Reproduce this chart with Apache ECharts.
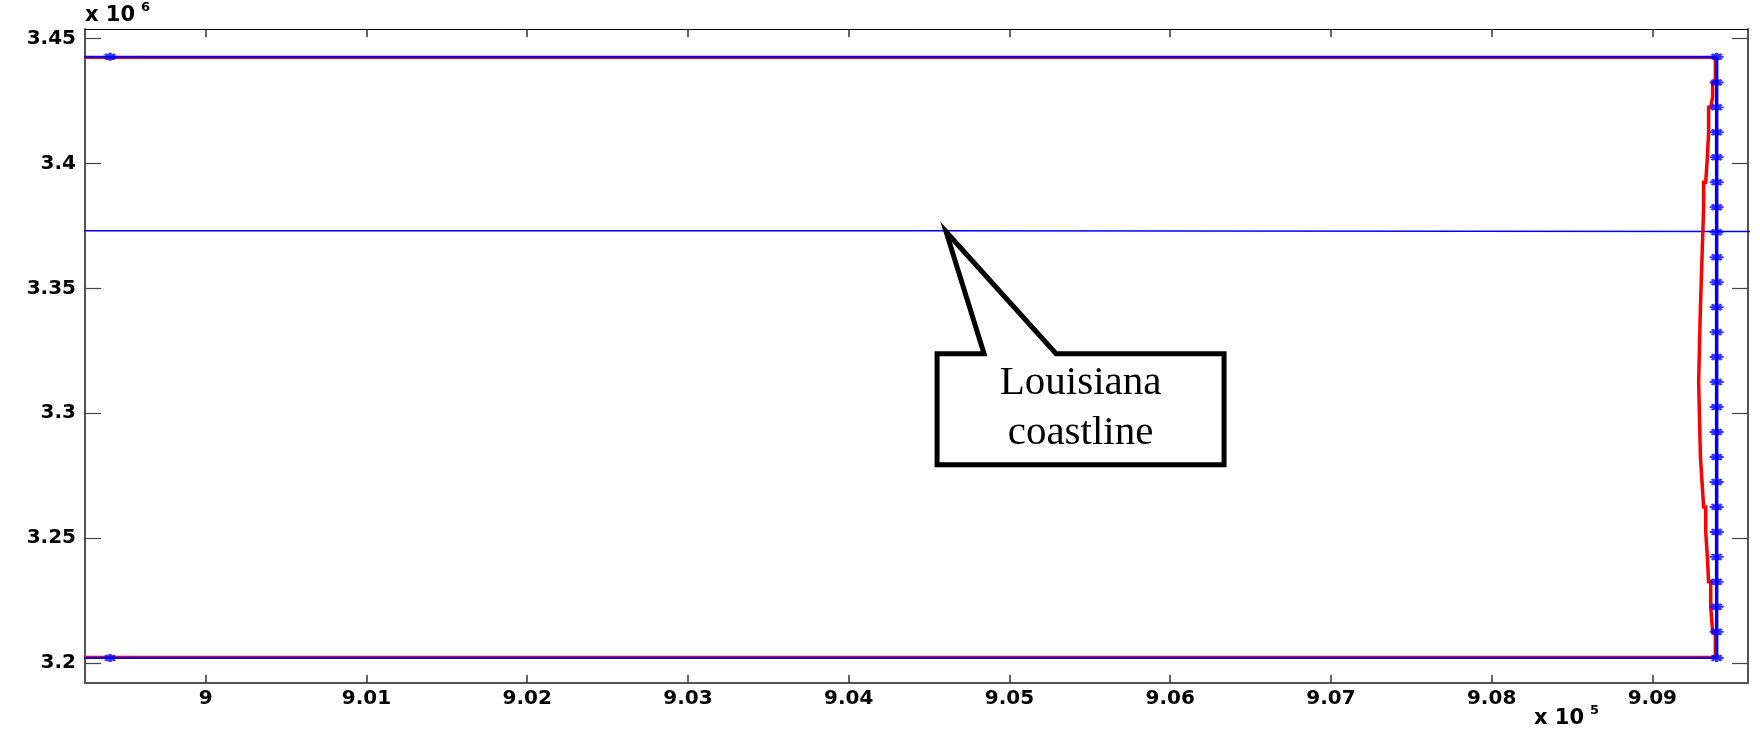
<!DOCTYPE html>
<html>
<head>
<meta charset="utf-8">
<script src="https://cdn.jsdelivr.net/npm/echarts@6/dist/echarts.min.js"></script>
<style>
html,body{margin:0;padding:0;background:#fff;}
#chart{width:1760px;height:734px;}
</style>
</head>
<body>
<div id="chart"></div>
<script>
// ---- Data (x in units of 1e5, y in units of 1e6) ----
const X_TICKS = [9, 9.01, 9.02, 9.03, 9.04, 9.05, 9.06, 9.07, 9.08, 9.09];
const Y_TICKS = [3.2, 3.25, 3.3, 3.35, 3.4, 3.45];
const X_RANGE = [8.99249, 9.09595];
const Y_RANGE = [3.1920, 3.45388];

// blue boundary (open rectangle running west off the plot)
const BLUE_WEST_END = 8.98;
const BLUE_EAST_X = 9.0940;
const BLUE_TOP_Y = 3.4428;
const BLUE_BOTTOM_Y = 3.2020;
const BLUE_WEST_MARKER_X = 8.99405;
const BLUE_EAST_MARKER_Y = [3.4428, 3.4325, 3.4225, 3.4125, 3.4025, 3.3925, 3.3825, 3.3725, 3.3625,
  3.3525, 3.3425, 3.3325, 3.3225, 3.3125, 3.3025, 3.2925, 3.2825, 3.2725, 3.2625, 3.2525, 3.2425,
  3.2325, 3.2225, 3.2125, 3.2020];

// red boundary (stepped eastern edge)
const RED_WEST_END = 8.98;
const RED_TOP_Y = 3.4423;
const RED_BOTTOM_Y = 3.2025;
const RED_STEP_X = [9.09392, 9.09375, 9.09363, 9.0935, 9.09342, 9.09332, 9.09319, 9.09309, 9.09299, 9.09288,
  9.09299, 9.09309, 9.09319, 9.09332, 9.09342, 9.0935, 9.09363, 9.09375, 9.09392];
const RED_STEP_Y = [3.4423, 3.4325, 3.4267, 3.4225, 3.4125, 3.4025, 3.3925, 3.3825, 3.3625, 3.3425,
  3.3125, 3.2825, 3.2725, 3.2625, 3.2525, 3.2425, 3.2325, 3.2225, 3.2125, 3.2025];

// coastline
const COAST_X = [8.98, 9.04423, 9.04423, 9.11];
const COAST_Y = [3.3731, 3.3731, 3.3727, 3.3727];
const CALLOUT_ANCHOR = [9.04606, 3.3727];
const CALLOUT_TEXT = 'Louisiana\ncoastline';

// ---- Build series data ----
const blueTop = [[BLUE_WEST_END, BLUE_TOP_Y], [BLUE_EAST_X, BLUE_TOP_Y]];
const blueBottom = [[BLUE_WEST_END, BLUE_BOTTOM_Y], [BLUE_EAST_X, BLUE_BOTTOM_Y]];
const blueEast = [[BLUE_EAST_X, BLUE_TOP_Y], [BLUE_EAST_X, BLUE_BOTTOM_Y]];
const blueMarkers = BLUE_EAST_MARKER_Y.map(y => [BLUE_EAST_X, y])
  .concat([[BLUE_WEST_MARKER_X, BLUE_TOP_Y], [BLUE_WEST_MARKER_X, BLUE_BOTTOM_Y]]);
const redTop = [[RED_WEST_END, RED_TOP_Y], [RED_STEP_X[0], RED_TOP_Y]];
const redBottom = [[RED_WEST_END, RED_BOTTOM_Y], [RED_STEP_X[RED_STEP_X.length - 1], RED_BOTTOM_Y]];
const redEast = [];
RED_STEP_X.forEach((x, i) => { redEast.push([x, RED_STEP_Y[i]]); redEast.push([x, RED_STEP_Y[i + 1]]); });
const coast = COAST_X.map((x, i) => [x, COAST_Y[i]]);

const BLUE = '#0000ff', RED = '#ff0000';
const AX = '#555555';
const labelFont = {fontFamily: 'DejaVu Sans', fontWeight: 'bold', fontSize: 20, color: '#000'};
const fmt = v => String(parseFloat(Number(v).toFixed(2)));
const asterisk = 'path://M5,0L5,10M0,5L10,5M1.5,1.5L8.5,8.5M1.5,8.5L8.5,1.5';

function lineSeries(data, color, width, z) {
  return {type: 'line', data, showSymbol: false, symbol: 'none', animation: false, clip: true, z: z || 2,
    lineStyle: {color, width, join: 'miter'}, emphasis: {disabled: true}, silent: true};
}

const chart = echarts.init(document.getElementById('chart'), null, {renderer: 'canvas'});
chart.setOption({
  backgroundColor: '#fff',
  animation: false,
  grid: {left: 85, right: 12, top: 29, bottom: 51, containLabel: false},
  xAxis: [{
    type: 'value', min: X_RANGE[0], max: X_RANGE[1], position: 'bottom',
    axisLine: {show: true, onZero: false, lineStyle: {color: AX, width: 2}},
    axisTick: {show: true, inside: true, length: 8, customValues: X_TICKS, lineStyle: {color: '#333', width: 1.5}},
    axisLabel: Object.assign({show: true, margin: 6, customValues: X_TICKS, formatter: fmt}, labelFont),
    splitLine: {show: false}
  }, {
    type: 'value', min: X_RANGE[0], max: X_RANGE[1], position: 'top',
    axisLine: {show: true, onZero: false, lineStyle: {color: '#000', width: 1}},
    axisTick: {show: true, inside: true, length: 8, customValues: X_TICKS, lineStyle: {color: '#333', width: 1.5}},
    axisLabel: {show: false}, splitLine: {show: false}
  }],
  yAxis: [{
    type: 'value', min: Y_RANGE[0], max: Y_RANGE[1], position: 'left',
    axisLine: {show: true, onZero: false, lineStyle: {color: AX, width: 2}},
    axisTick: {show: true, inside: true, length: 16, customValues: Y_TICKS, lineStyle: {color: '#444', width: 1.2}},
    axisLabel: Object.assign({show: true, margin: 9, customValues: Y_TICKS, formatter: fmt}, labelFont),
    splitLine: {show: false}
  }, {
    type: 'value', min: Y_RANGE[0], max: Y_RANGE[1], position: 'right',
    axisLine: {show: true, onZero: false, lineStyle: {color: AX, width: 2}},
    axisTick: {show: true, inside: true, length: 16, customValues: Y_TICKS, lineStyle: {color: '#444', width: 1.2}},
    axisLabel: {show: false}, splitLine: {show: false}
  }],
  series: [
    lineSeries(coast, BLUE, 1.3, 2),
    lineSeries(redTop, RED, 2, 3),
    lineSeries(redBottom, RED, 2, 3),
    lineSeries(redEast, RED, 3.5, 3),
    lineSeries(blueTop, BLUE, 2, 4),
    lineSeries(blueBottom, BLUE, 2, 4),
    lineSeries(blueEast, BLUE, 3.5, 4),
    {type: 'scatter', data: blueMarkers, symbol: asterisk, symbolSize: [14, 8], z: 5, silent: true,
      itemStyle: {color: 'none', borderColor: BLUE, borderWidth: 2.6}, animation: false}
  ]
});

// ---- Annotations (exponent labels and callout) ----
const tip = chart.convertToPixel({xAxisIndex: 0, yAxisIndex: 0}, CALLOUT_ANCHOR);
const bx0 = tip[0] - 9, bx1 = tip[0] + 278, by0 = tip[1] + 122, by1 = tip[1] + 233;
const l0 = tip[0] + 38, l1 = tip[0] + 110;
const expFont = 'bold 21px "DejaVu Sans"';
const supFont = 'bold 13px "DejaVu Sans"';
chart.setOption({
  graphic: [
    {type: 'polygon', z: 50, shape: {points: [tip, [l1, by0], [bx1, by0], [bx1, by1], [bx0, by1], [bx0, by0], [l0, by0]]},
      style: {fill: '#fff', stroke: '#000', lineWidth: 5, lineJoin: 'miter'}},
    {type: 'text', z: 51, x: (bx0 + bx1) / 2, y: (by0 + by1) / 2 - 1,
      style: {text: CALLOUT_TEXT, font: '41px "Liberation Serif"', fill: '#000', align: 'center', verticalAlign: 'middle', lineHeight: 50}},
    {type: 'text', z: 51, x: 85, y: 26, style: {text: 'x 10', font: expFont, fill: '#000', verticalAlign: 'bottom'}},
    {type: 'text', z: 51, x: 141, y: 14, style: {text: '6', font: supFont, fill: '#000', verticalAlign: 'bottom'}},
    {type: 'text', z: 51, x: 1534, y: 729, style: {text: 'x 10', font: expFont, fill: '#000', verticalAlign: 'bottom'}},
    {type: 'text', z: 51, x: 1590, y: 717, style: {text: '5', font: supFont, fill: '#000', verticalAlign: 'bottom'}}
  ]
});
</script>
</body>
</html>
